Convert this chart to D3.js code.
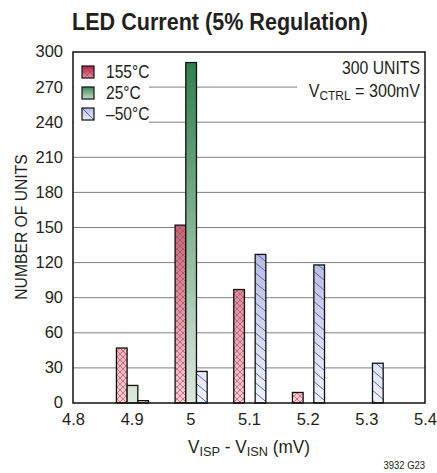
<!DOCTYPE html>
<html><head><meta charset="utf-8">
<script src="https://cdn.jsdelivr.net/npm/d3@7"></script>
<style>body{margin:0;background:#fff}svg{display:block}text{font-family:"Liberation Sans",Arial,sans-serif;fill:#231f20}</style>
</head><body><svg id="c" width="437" height="473"></svg>
<script>
const bins = [4.9, 5.0, 5.1, 5.2, 5.3];
const series = ["155°C", "25°C", "–50°C"];
const hot = [47, 152, 97, 9, 0];
const room = [15, 291, 0, 0, 0];
const cold = [2, 27, 127, 118, 34];
const xTicks = [4.8, 4.9, 5.0, 5.1, 5.2, 5.3, 5.4];
const yTicks = [0, 30, 60, 90, 120, 150, 180, 210, 240, 270, 300];

const svg = d3.select("#c");
const L = 73, R = 425, T = 52, B = 403;
const x = d3.scaleLinear().domain([4.8, 5.4]).range([L, R]);
const y = d3.scaleLinear().domain([0, 300]).range([B, T]);
const defs = svg.append("defs");
function squeeze(sel, f) {
  sel.each(function() {
    const w = this.getComputedTextLength();
    d3.select(this).attr("textLength", w * f).attr("lengthAdjust", "spacingAndGlyphs");
  });
}
function grad(id, top, bot, user) {
  const g = defs.append("linearGradient").attr("id", id).attr("x1", 0).attr("x2", 0);
  if (user) g.attr("gradientUnits", "userSpaceOnUse").attr("y1", T).attr("y2", B);
  else g.attr("y1", 0).attr("y2", 1);
  g.append("stop").attr("offset", 0).attr("stop-color", top);
  g.append("stop").attr("offset", 1).attr("stop-color", bot);
}
grad("gr", "#8a0026", "#f6d2d6", true);
grad("gg", "#2a7d48", "#dceadc", true);
grad("gb", "#6a72b8", "#f2f2fb", true);
grad("lr", "#a82040", "#e09aaa", false);
grad("lg", "#3a8a58", "#c4dcc4", false);
grad("lb", "#b8bce4", "#eceef9", false);
const pr = defs.append("pattern").attr("id", "pr").attr("patternUnits", "userSpaceOnUse").attr("width", 6).attr("height", 6);
pr.append("path").attr("d", "M0,0L6,6M6,0L0,6").attr("stroke", "#c0304c").attr("stroke-width", 0.8).attr("opacity", 0.75);
const pb = defs.append("pattern").attr("id", "pb").attr("patternUnits", "userSpaceOnUse").attr("width", 12).attr("height", 10);
pb.append("path").attr("d", "M0,0L12,10M-12,0L0,10M12,0L24,10").attr("stroke", "#3a5cc8").attr("stroke-width", 0.9);

// grid
svg.append("g").selectAll("line").data(yTicks.filter(d => d > 0 && d < 300)).join("line")
  .attr("x1", L).attr("x2", R).attr("y1", d => y(d)).attr("y2", d => y(d))
  .attr("stroke", "#808080").attr("stroke-width", 1);

// bars
const bw = 10.7;
const data = [
  {vals: hot, g: "url(#gr)", p: "url(#pr)", off: -1.5},
  {vals: room, g: "url(#gg)", p: null, off: -0.5},
  {vals: cold, g: "url(#gb)", p: "url(#pb)", off: 0.5}
];
data.forEach(s => {
  const rows = bins.map((b, i) => ({b, v: s.vals[i]})).filter(d => d.v > 0);
  const g = svg.append("g");
  const place = sel => sel.attr("x", d => x(d.b) + 0.8 + s.off * bw).attr("y", d => y(d.v))
    .attr("width", bw).attr("height", d => B - y(d.v));
  g.selectAll("rect.f").data(rows).join("rect").call(place).attr("fill", s.g);
  if (s.p) g.selectAll("rect.p").data(rows).join("rect").call(place).attr("fill", s.p);
  g.selectAll("rect.o").data(rows).join("rect").call(place)
    .attr("fill", "none").attr("stroke", "#111").attr("stroke-width", 1.3);
});

// white boxes for legend & note
svg.append("rect").attr("x", L + 1).attr("y", T + 1).attr("width", 75).attr("height", 71).attr("fill", "#fff");
svg.append("rect").attr("x", 297).attr("y", T + 1).attr("width", R - 298).attr("height", 46).attr("fill", "#fff");

// frame
svg.append("rect").attr("x", L).attr("y", T).attr("width", R - L).attr("height", B - T)
  .attr("fill", "none").attr("stroke", "#111").attr("stroke-width", 1.5);

// axes
const ya = svg.append("g").attr("transform", `translate(${L},0)`)
  .call(d3.axisLeft(y).tickValues(yTicks).tickSize(0).tickPadding(10));
ya.select(".domain").remove();
ya.selectAll("text").attr("font-size", 16.5).attr("font-family", null).attr("dy", "0.3em");
const xa = svg.append("g").attr("transform", `translate(0,${B})`)
  .call(d3.axisBottom(x).tickValues(xTicks).tickSize(0).tickPadding(10).tickFormat(d => d === 5 ? "5" : d3.format(".1f")(d)));
xa.select(".domain").remove();
xa.selectAll("text").attr("font-size", 16.5).attr("font-family", null);

// legend
const lgd = svg.append("g");
const fills = [["url(#lr)", "url(#pr)"], ["url(#lg)", null], ["url(#lb)", null]];
series.forEach((s, i) => {
  const yy = 66 + i * 21;
  lgd.append("rect").attr("x", 82).attr("y", yy).attr("width", 12).attr("height", 12).attr("fill", fills[i][0]);
  if (fills[i][1]) lgd.append("rect").attr("x", 82).attr("y", yy).attr("width", 12).attr("height", 12).attr("fill", fills[i][1]);
  if (i === 2) lgd.append("line").attr("x1", 82).attr("y1", yy).attr("x2", 94).attr("y2", yy + 12).attr("stroke", "#3a5cc8").attr("stroke-width", 0.9);
  lgd.append("rect").attr("x", 82).attr("y", yy).attr("width", 12).attr("height", 12).attr("fill", "none").attr("stroke", "#111").attr("stroke-width", 1.2);
  lgd.append("text").attr("x", 106).attr("y", yy + 12).attr("font-size", 17.5).text(s).call(squeeze, 0.89);
});

// notes
svg.append("text").attr("x", 420).attr("y", 74).attr("text-anchor", "end").attr("font-size", 17.5).text("300 UNITS").call(squeeze, 0.9);
const vt = svg.append("text").attr("x", 420).attr("y", 97).attr("text-anchor", "end").attr("font-size", 17.5);
vt.append("tspan").text("V");
vt.append("tspan").attr("font-size", 13).attr("dy", 3).text("CTRL");
vt.append("tspan").attr("dy", -3).text(" = 300mV");
vt.call(squeeze, 0.92);

// title
svg.append("text").attr("x", 220).attr("y", 30).attr("text-anchor", "middle").attr("font-size", 24.5).attr("font-weight", "bold").text("LED Current (5% Regulation)").call(squeeze, 0.88);

// axis labels
svg.append("text").attr("transform", "translate(27,227) rotate(-90)").attr("text-anchor", "middle").attr("font-size", 16.5).text("NUMBER OF UNITS").call(squeeze, 0.95);
const xl = svg.append("text").attr("x", 249).attr("y", 453).attr("text-anchor", "middle").attr("font-size", 17.5);
xl.append("tspan").text("V");
xl.append("tspan").attr("font-size", 13).attr("dy", 3).text("ISP");
xl.append("tspan").attr("dy", -3).text(" - V");
xl.append("tspan").attr("font-size", 13).attr("dy", 3).text("ISN");
xl.append("tspan").attr("dy", -3).text(" (mV)");
xl.call(squeeze, 0.98);
svg.append("text").attr("x", 425).attr("y", 469).attr("text-anchor", "end").attr("font-size", 10.5).text("3932 G23").call(squeeze, 0.9);
</script></body></html>
